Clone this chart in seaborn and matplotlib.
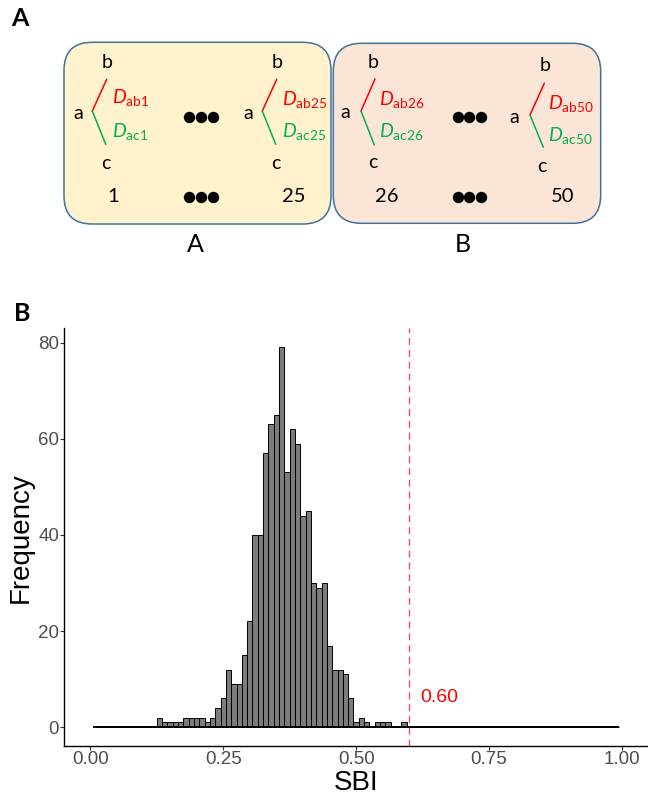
import numpy as np
import pandas as pd
import matplotlib
matplotlib.use("Agg")
import matplotlib.pyplot as plt
import seaborn as sns
from matplotlib.patches import FancyBboxPatch

# ---------------- data ----------------
# histogram: 99 bins of width 0.01 from 0.005 to 0.995 (bin index k -> centre 0.01*(k+1))
bin_lo = 0.005
bin_hi = 0.995
n_bins = 99
counts = [0] * 12 + [
    2, 1, 1, 1, 1, 2, 2, 2, 2, 1, 2, 4, 6, 12, 9, 9, 15, 22, 40, 40,
    57, 63, 65, 79, 53, 62, 59, 44, 45, 30, 29, 30, 17, 12, 12, 11, 6,
    1, 2, 1, 0, 1, 1, 1, 0, 0, 1,
]
counts = counts + [0] * (n_bins - len(counts))
observed_sbi = 0.60
observed_label = "0.60"
x_ticks = [0.00, 0.25, 0.50, 0.75, 1.00]
x_tick_labels = ["0.00", "0.25", "0.50", "0.75", "1.00"]
y_ticks = [0, 20, 40, 60, 80]

# diagram texts
group_labels = ["A", "B"]
tree_ab_labels = ["ab1", "ab25", "ab26", "ab50"]
tree_ac_labels = ["ac1", "ac25", "ac26", "ac50"]
index_labels = ["1", "25", "26", "50"]

edges = [float(e) for e in np.linspace(bin_lo, bin_hi, n_bins + 1)]
centers = [(edges[i] + edges[i + 1]) / 2 for i in range(n_bins)]
df = pd.DataFrame({"SBI": centers, "count": counts})

# ---------------- style ----------------
sns.set_style("ticks")
plt.rcParams["font.family"] = ["Liberation Sans", "DejaVu Sans"]
plt.rcParams["text.color"] = "black"
plt.rcParams["axes.labelcolor"] = "black"
plt.rcParams["mathtext.fontset"] = "custom"
plt.rcParams["mathtext.rm"] = "Lato"
plt.rcParams["mathtext.it"] = "Lato:italic"

W, H = 648, 796
fig = plt.figure(figsize=(W / 100, H / 100), dpi=100)

# ---------------- histogram panel ----------------
x0px, x_per = 90.3, 531.7   # pixel of x=0, pixels per unit
y0px, y_per = 727.3, 4.81
ax_left, ax_right = 63.7, 648.0
ax_top, ax_bot = 328.3, 746.3
ax_w, ax_h = ax_right - ax_left, ax_bot - ax_top
ax = fig.add_axes([ax_left / W, (H - ax_bot) / H, ax_w / W, ax_h / H])

sns.histplot(data=df, x="SBI", weights="count", bins=edges, ax=ax,
             color="#7C7C7C", edgecolor="black", linewidth=0.7, alpha=1.0)
# baseline drawn by the zero-count bins in the reference
ax.hlines(0, edges[0], edges[-1], color="black", lw=1.4, zorder=3)
ax.axvline(observed_sbi, color="#FF0000", alpha=0.7, lw=1.0, dashes=(5, 3.5))
ax.text(0.656, 6.1, observed_label, color="#FF0000", fontsize=14, ha="center", va="center")

ax.set_xlim((ax_left - x0px) / x_per, (ax_right - x0px) / x_per)
ax.set_ylim((y0px - ax_bot) / y_per, (y0px - ax_top) / y_per)
ax.set_xticks(x_ticks)
ax.set_xticklabels(x_tick_labels)
ax.set_yticks(y_ticks)
ax.tick_params(axis="both", labelsize=13.5, labelcolor="#4D4D4D", color="#333333",
               length=2.75, width=0.8, pad=0.5)
ax.set_xlabel("SBI", fontsize=20, color="black")
ax.set_ylabel("Frequency", fontsize=20, color="black")
ax.xaxis.set_label_coords(0.5, (ax_bot - 770) / ax_h)
ax.yaxis.set_label_coords((34 - ax_left) / ax_w, 0.5)
sns.despine(ax=ax)
for s in ["left", "bottom"]:
    ax.spines[s].set_linewidth(1.0)
    ax.spines[s].set_color("black")

# ---------------- diagram panel ----------------
dax = fig.add_axes([0, 0, 1, 1])
dax.set_xlim(0, W)
dax.set_ylim(H, 0)
dax.axis("off")
dax.patch.set_visible(False)

boxes = [((64, 42.3, 331, 224), "#FFF2CC"), ((333.3, 43.3, 600.7, 223.3), "#FBE5D6")]
for (x1, y1, x2, y2), fc in boxes:
    dax.add_patch(FancyBboxPatch((x1, y1), x2 - x1, y2 - y1,
                                 boxstyle="round,pad=0,rounding_size=28",
                                 fc=fc, ec="#41719C", lw=1.1))

DFONT = ["Lato", "DejaVu Sans"]
red, green = "#FF0000", "#00B050"
trees = [
    # a, b, c, vertex, red end, green end, label x, ab y, ac y
    ((78.3, 113.3), (106.7, 62.3), (106, 163.3), (92.3, 111), (106.7, 79.3), (105.7, 144.3), 111.7, 98, 131),
    ((248.3, 113.3), (276.7, 62.3), (276, 163.3), (262.3, 111), (276.7, 79.3), (275.7, 144.3), 281.7, 99, 131),
    ((345, 113), (373.3, 62.3), (372.7, 163), (361, 111), (375, 79), (374.3, 145), 379.3, 100, 131),
    ((514.3, 117.3), (545, 65.7), (542.3, 166.7), (530, 115), (544.3, 83.3), (543.3, 147.3), 548.3, 104, 135),
]
for i, (a, b, c, v, rt, ge, lx, yab, yac) in enumerate(trees):
    dax.text(*a, "a", fontsize=14, family=DFONT, color="black", ha="center", va="center")
    dax.text(*b, "b", fontsize=14, family=DFONT, color="black", ha="center", va="center")
    dax.text(*c, "c", fontsize=14, family=DFONT, color="black", ha="center", va="center")
    dax.plot([v[0], rt[0]], [v[1], rt[1]], color=red, lw=1.1)
    dax.plot([v[0], ge[0]], [v[1], ge[1]], color=green, lw=1.1)
    dax.text(lx, yab, r"$\mathit{D}_{\mathrm{%s}}$" % tree_ab_labels[i], color=red,
             fontsize=14, ha="left", va="center")
    dax.text(lx, yac, r"$\mathit{D}_{\mathrm{%s}}$" % tree_ac_labels[i], color=green,
             fontsize=14, ha="left", va="center")

dot_rows = [117.3, 196.7]
dot_groups = [[189.2, 200.8, 212.5], [457.5, 469.2, 480.8]]
for yy in dot_rows:
    for g in dot_groups:
        dax.plot(g, [yy] * 3, "o", color="black", ms=8.2, mew=0)

num_pos = [(112.7, 196.7), (293.3, 196.7), (386.7, 196.7), (562.7, 196.7)]
for (x, y), t in zip(num_pos, index_labels):
    dax.text(x, y, t, fontsize=14.5, family=DFONT, color="black", ha="center", va="center")

for (x, y), t in zip([(195, 244), (463, 244)], group_labels):
    dax.text(x, y, t, fontsize=18, family=DFONT, color="black", ha="center", va="center")

dax.text(20, 18.3, "A", fontsize=18, fontweight="bold", family=DFONT, color="black",
         ha="center", va="center")
dax.text(21.7, 313.3, "B", fontsize=18, fontweight="bold", family=DFONT, color="black",
         ha="center", va="center")

fig.savefig("out.png", dpi=100)
